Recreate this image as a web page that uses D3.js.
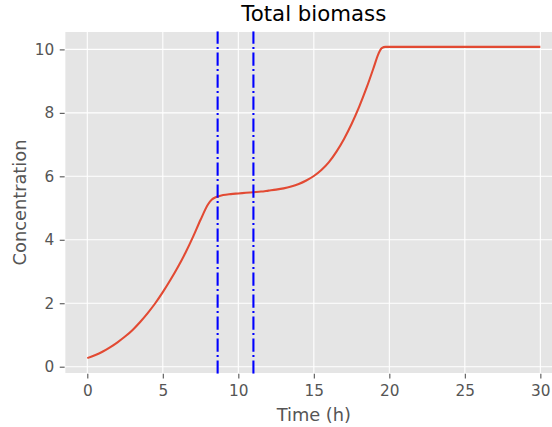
<!DOCTYPE html>
<html>
<head>
<meta charset="utf-8">
<script src="https://cdn.jsdelivr.net/npm/d3@7"></script>
<style>
  html, body { margin: 0; padding: 0; background: #fff; }
  svg { display: block; font-family: "DejaVu Sans", sans-serif; }
</style>
</head>
<body>
<svg id="chart" width="552" height="427"></svg>
<script>
// ---- data ----
const time = [0,0.5,1,1.5,2,2.5,3,3.5,4,4.5,5,5.5,6,6.5,7,7.5,8,8.25,8.5,8.75,9,9.5,10,10.5,11,11.5,12,12.5,13,13.5,14,14.5,15,15.5,16,16.5,17,17.5,18,18.5,19,19.25,19.5,19.75,20,21,22,23,24,25,26,27,28,29,30];
const biomass = [0.27,0.36,0.47,0.61,0.77,0.95,1.16,1.41,1.69,2.00,2.35,2.73,3.14,3.59,4.09,4.63,5.12,5.27,5.34,5.38,5.41,5.44,5.46,5.48,5.50,5.52,5.55,5.58,5.62,5.68,5.76,5.87,6.01,6.20,6.45,6.78,7.18,7.65,8.19,8.80,9.48,9.83,10.04,10.08,10.08,10.08,10.08,10.08,10.08,10.08,10.08,10.08,10.08,10.08,10.08];
const phaseLines = [8.63, 11.0];
const xTicks = [0,5,10,15,20,25,30];
const yTicks = [0,2,4,6,8,10];
const title = "Total biomass";
const xLabel = "Time (h)";
const yLabel = "Concentration";

// ---- layout ----
const svg = d3.select("#chart");
const L = 64.65, R = 563.0, T = 31.3, B = 373.7;

const xExt = d3.extent(time), yExt = d3.extent(biomass);
const xm = (xExt[1]-xExt[0])*0.05, ym = (yExt[1]-yExt[0])*0.05;
const x = d3.scaleLinear().domain([xExt[0]-xm, xExt[1]+xm]).range([L, R]);
const y = d3.scaleLinear().domain([yExt[0]-ym, yExt[1]+ym]).range([B, T]);

svg.append("defs").append("clipPath").attr("id","clip")
  .append("rect").attr("x",L).attr("y",T).attr("width",R-L).attr("height",B-T);

svg.append("rect").attr("x",L).attr("y",T).attr("width",R-L).attr("height",B-T)
  .attr("fill","#E5E5E5").attr("stroke","#fff").attr("stroke-width",1.4);

// grid
const g = svg.append("g").attr("clip-path","url(#clip)");
g.selectAll(".vg").data(xTicks).join("line")
  .attr("x1",d=>x(d)).attr("x2",d=>x(d)).attr("y1",T).attr("y2",B)
  .attr("stroke","#fff").attr("stroke-width",1.1);
g.selectAll(".hg").data(yTicks).join("line")
  .attr("y1",d=>y(d)).attr("y2",d=>y(d)).attr("x1",L).attr("x2",R)
  .attr("stroke","#fff").attr("stroke-width",1.1);

// axes (ticks and labels)
const xAxis = d3.axisBottom(x).tickValues(xTicks).tickSize(4.9).tickPadding(7).tickFormat(d3.format("d"));
const yAxis = d3.axisLeft(y).tickValues(yTicks).tickSize(4.9).tickPadding(5.5).tickFormat(d3.format("d"));
const gx = svg.append("g").attr("transform",`translate(0,${B})`).call(xAxis);
const gy = svg.append("g").attr("transform",`translate(${L},0)`).call(yAxis);
[gx, gy].forEach(a => {
  a.select(".domain").remove();
  a.selectAll(".tick line").attr("stroke","#555").attr("stroke-width",1.1);
  a.selectAll(".tick text").attr("fill","#555").attr("font-size","15.3px")
    .attr("font-family","DejaVu Sans, sans-serif");
});

// data line
const line = d3.line().x((d,i)=>x(time[i])).y(d=>y(d)).curve(d3.curveMonotoneX);
g.append("path").datum(biomass).attr("d",line)
  .attr("fill","none").attr("stroke","#E24A33").attr("stroke-width",2.1)
  .attr("stroke-linejoin","round");

// vertical phase lines (dash-dot, drawn bottom to top)
g.selectAll(".pl").data(phaseLines).join("line")
  .attr("x1",d=>x(d)).attr("x2",d=>x(d)).attr("y1",B).attr("y2",T)
  .attr("stroke","#0000ff").attr("stroke-width",2.1)
  .attr("stroke-dasharray","13.3,3.3,2.1,3.3");

// texts
svg.append("text").attr("x",(L+R)/2).attr("y",21).attr("text-anchor","middle")
  .attr("font-size","21.3px").attr("fill","#000").text(title);
svg.append("text").attr("x",(L+R)/2).attr("y",420.5).attr("text-anchor","middle")
  .attr("font-size","17.8px").attr("fill","#555").text(xLabel);
svg.append("text").attr("transform",`translate(25.5,${(T+B)/2}) rotate(-90)`)
  .attr("text-anchor","middle").attr("font-size","17.8px").attr("fill","#555").text(yLabel);
</script>
</body>
</html>
